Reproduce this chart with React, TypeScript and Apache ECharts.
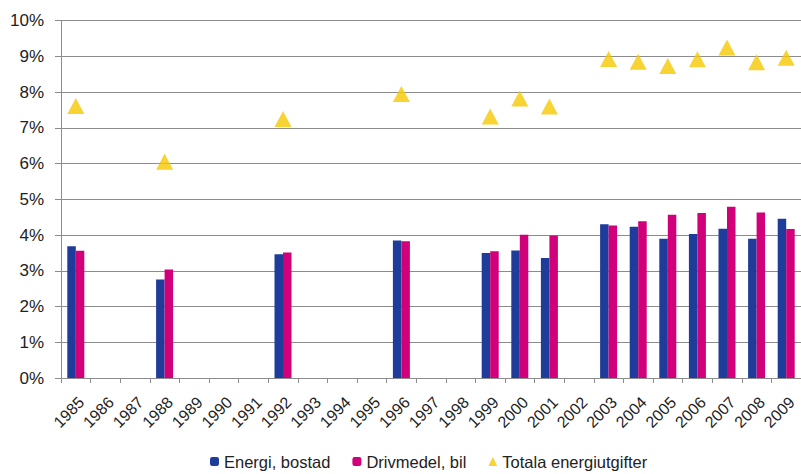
import React, { useEffect, useRef } from "react";
import * as echarts from "echarts";

const years = [
  "1985", "1986", "1987", "1988", "1989", "1990", "1991", "1992", "1993", "1994",
  "1995", "1996", "1997", "1998", "1999", "2000", "2001", "2002", "2003", "2004",
  "2005", "2006", "2007", "2008", "2009",
];

const energiBostad = [
  3.69, null, null, 2.76, null, null, null, 3.46, null, null,
  null, 3.85, null, null, 3.5, 3.57, 3.36, null, 4.3, 4.23,
  3.9, 4.03, 4.18, 3.9, 4.46,
];

const drivmedelBil = [
  3.56, null, null, 3.04, null, null, null, 3.51, null, null,
  null, 3.83, null, null, 3.55, 4.01, 3.99, null, 4.27, 4.39,
  4.57, 4.62, 4.79, 4.63, 4.17,
];

const totala = [
  7.61, null, null, 6.05, null, null, null, 7.25, null, null,
  null, 7.95, null, null, 7.32, 7.82, 7.6, null, 8.93, 8.85,
  8.73, 8.92, 9.25, 8.84, 8.96,
];

const seriesNames = ["Energi, bostad", "Drivmedel, bil", "Totala energiutgifter"];

const FONT = "'Liberation Sans', Arial, sans-serif";

export default function App() {
  const ref = useRef<HTMLDivElement>(null);

  useEffect(() => {
    if (!ref.current) return;
    const chart = echarts.init(ref.current, undefined, { renderer: "svg" });
    chart.setOption({
      animation: false,
      backgroundColor: "#ffffff",
      textStyle: { fontFamily: FONT },
      grid: { left: 61, right: 0, top: 20.7, bottom: 96, containLabel: false },
      legend: {
        left: 210,
        top: 453,
        padding: 0,
        itemWidth: 9,
        itemHeight: 9,
        itemGap: 22,
        textStyle: { fontFamily: FONT, fontSize: 16.5, color: "#222" },
        data: seriesNames,
      },
      xAxis: {
        type: "category",
        data: years,
        boundaryGap: true,
        axisLine: { lineStyle: { color: "#8c8c8c", width: 1 } },
        axisTick: { show: true, length: 5, lineStyle: { color: "#8c8c8c" } },
        axisLabel: {
          rotate: 45,
          interval: 0,
          margin: 16,
          align: "right",
          verticalAlign: "top",
          fontSize: 16,
          color: "#222",
          fontFamily: FONT,
        },
      },
      yAxis: {
        type: "value",
        min: 0,
        max: 10,
        interval: 1,
        axisLine: { show: true, lineStyle: { color: "#8c8c8c", width: 1 } },
        axisTick: { show: true, length: 6, lineStyle: { color: "#8c8c8c" } },
        axisLabel: {
          formatter: "{value}%",
          margin: 17,
          fontSize: 17,
          color: "#222",
          fontFamily: FONT,
        },
        splitLine: { show: true, lineStyle: { color: "#8c8c8c", width: 1 } },
      },
      series: [
        {
          name: seriesNames[0],
          type: "bar",
          data: energiBostad,
          barWidth: 8.5,
          barGap: "0%",
          itemStyle: { color: "#1f3c9a" },
        },
        {
          name: seriesNames[1],
          type: "bar",
          data: drivmedelBil,
          barWidth: 8.5,
          barGap: "0%",
          itemStyle: { color: "#d1007a" },
        },
        {
          name: seriesNames[2],
          type: "scatter",
          data: totala,
          symbol: "triangle",
          symbolSize: [17, 16],
          itemStyle: { color: "#f5c800" },
        },
      ],
    });
    return () => chart.dispose();
  }, []);

  return (
    <div
      ref={ref}
      style={{ position: "absolute", left: 0, top: 0, width: 801, height: 474 }}
    />
  );
}
